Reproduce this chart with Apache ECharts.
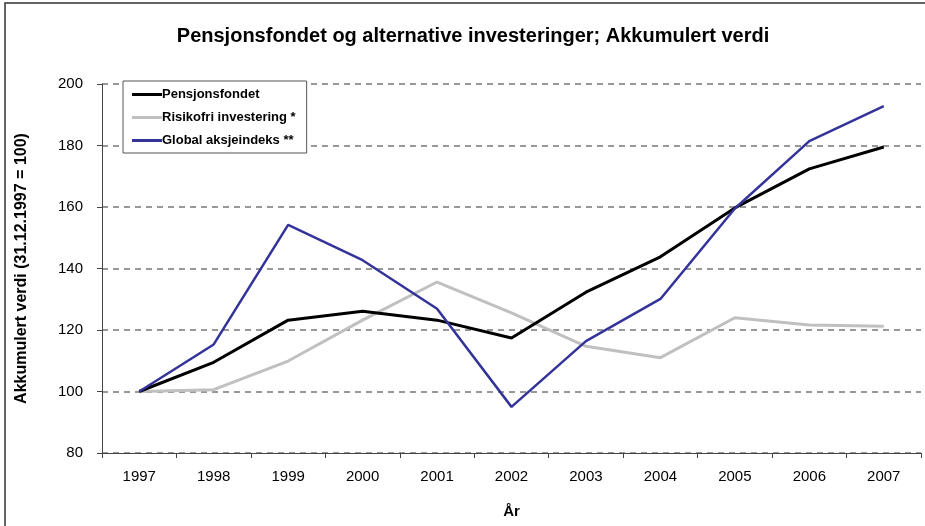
<!DOCTYPE html>
<html>
<head>
<meta charset="utf-8">
<script src="https://cdn.jsdelivr.net/npm/echarts@6/dist/echarts.min.js"></script>
<style>
  html, body { margin: 0; padding: 0; background: #fff; }
  #main { width: 925px; height: 526px; }
</style>
</head>
<body>
<div id="main"></div>
<script>
// år og verdier (31.12.1997 = 100)
let years = ['1997','1998','1999','2000','2001','2002','2003','2004','2005','2006','2007'];
let pensjonsfondet = [100, 109.5, 123.2, 126.1, 123.2, 117.4, 132.3, 143.8, 159.7, 172.4, 179.5];
let risikofri = [100, 100.6, 109.9, 123.2, 135.6, 125.6, 114.7, 111, 124, 121.6, 121.2];
let globalIndeks = [100, 115.3, 154.2, 142.7, 126.9, 95, 116.4, 130.1, 159.5, 181.4, 192.8];
let yTicks = [80, 200, 20];

var myChart = echarts.init(document.getElementById('main'));

var option = {
    animation: false,
    backgroundColor: '#fff',
    textStyle: { fontFamily: 'Liberation Sans, Arial, sans-serif' },
    graphic: [{
        type: 'rect',
        shape: { x: 5, y: 3, width: 940, height: 540 },
        style: { fill: 'none', stroke: '#333', lineWidth: 1.5 }
    }],
    title: {
        text: 'Pensjonsfondet og alternative investeringer; Akkumulert verdi',
        left: 468,
        top: 21,
        textAlign: 'center',
        textStyle: { fontSize: 20, fontWeight: 'bold', color: '#000' }
    },
    legend: {
        orient: 'vertical',
        left: 123,
        top: 81,
        padding: [7, 11, 6, 9],
        itemGap: 10,
        itemWidth: 30,
        itemHeight: 3,
        borderColor: '#555',
        borderWidth: 1,
        backgroundColor: '#fff',
        icon: 'rect',
        textStyle: { fontSize: 13, fontWeight: 'bold', color: '#000', padding: [0, 0, 0, -5] },
        data: ['Pensjonsfondet', 'Risikofri investering *', 'Global aksjeindeks **']
    },
    grid: { left: 102, right: 4, top: 84, bottom: 73 },
    xAxis: {
        type: 'category',
        data: years,
        boundaryGap: true,
        name: 'År',
        nameLocation: 'middle',
        nameGap: 51,
        nameTextStyle: { fontSize: 15, fontWeight: 'bold', color: '#000' },
        axisLine: { lineStyle: { color: '#444', width: 1 } },
        axisTick: { show: true, length: 5, lineStyle: { color: '#444' } },
        axisLabel: { fontSize: 15, color: '#000', margin: 16 }
    },
    yAxis: {
        type: 'value',
        min: yTicks[0],
        max: yTicks[1],
        interval: yTicks[2],
        name: 'Akkumulert verdi (31.12.1997 = 100)',
        nameLocation: 'middle',
        nameGap: 72,
        nameTextStyle: { fontSize: 16, fontWeight: 'bold', color: '#000' },
        axisLine: { show: true, lineStyle: { color: '#444', width: 1 } },
        axisTick: { show: true, length: 5, lineStyle: { color: '#444' } },
        axisLabel: { fontSize: 15, color: '#000', margin: 19 },
        splitLine: { lineStyle: { color: '#777', width: 1.5, type: [6, 5] } }
    },
    series: [
        {
            name: 'Pensjonsfondet',
            type: 'line',
            data: pensjonsfondet,
            symbol: 'none',
            color: '#000',
            lineStyle: { color: '#000', width: 3 },
            z: 3
        },
        {
            name: 'Risikofri investering *',
            type: 'line',
            data: risikofri,
            symbol: 'none',
            color: '#c0c0c0',
            lineStyle: { color: '#c0c0c0', width: 3 },
            z: 2
        },
        {
            name: 'Global aksjeindeks **',
            type: 'line',
            data: globalIndeks,
            symbol: 'none',
            color: '#333399',
            lineStyle: { color: '#333399', width: 2.5 },
            z: 4
        }
    ]
};

myChart.setOption(option);
</script>
</body>
</html>
